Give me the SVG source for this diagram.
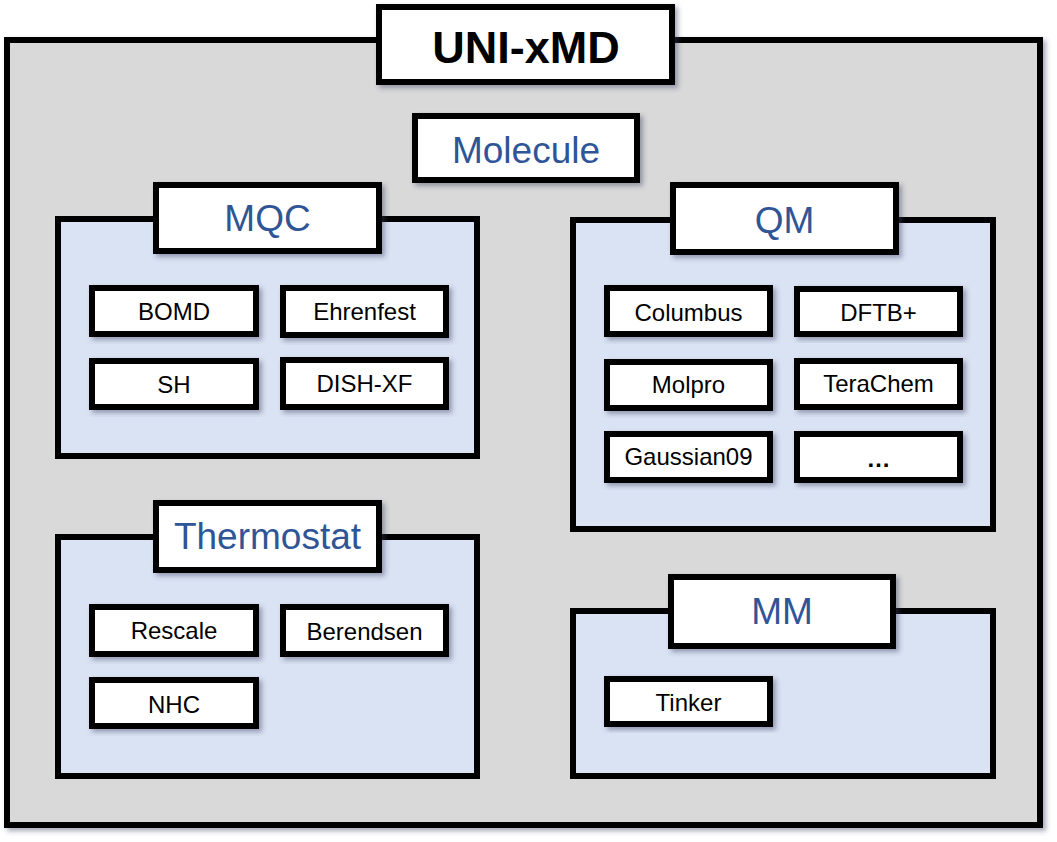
<svg xmlns="http://www.w3.org/2000/svg" width="1057" height="842" viewBox="0 0 1057 842">
<defs>
<filter id="sh" x="-10%" y="-10%" width="125%" height="130%">
<feDropShadow dx="3" dy="3" stdDeviation="2.5" flood-color="#3a4060" flood-opacity="0.45"/>
</filter>
<style>
.outer{fill:#D9D9D9;stroke:#000;stroke-width:6;filter:url(#sh)}
.grp{fill:#DAE3F3;stroke:#000;stroke-width:6}
.lbl{fill:#fff;stroke:#000;stroke-width:6;filter:url(#sh)}
.nd{fill:#fff;stroke:#000;stroke-width:6;filter:url(#sh)}
.t{font-family:"Liberation Sans",Arial,sans-serif;font-size:24px;fill:#000;text-anchor:middle}
.gt{font-family:"Liberation Sans",Arial,sans-serif;font-size:37px;fill:#2F5597;text-anchor:middle}
.title{font-family:"Liberation Sans",Arial,sans-serif;font-size:45px;font-weight:bold;fill:#000;text-anchor:middle}
</style>
</defs>
<rect width="1057" height="842" fill="#fff"/>
<g id="uni-xmd">
<rect class="outer" x="7" y="40" width="1033" height="785"/>
<rect class="lbl" x="379" y="7" width="293" height="75"/>
<text class="title" x="526" y="63">UNI-xMD</text>
</g>
<g id="molecule">
<rect class="lbl" x="415" y="116" width="222" height="64"/>
<text class="gt" x="526" y="163">Molecule</text>
</g>
<g id="mqc">
<rect class="grp" x="58" y="219" width="419" height="237"/>
<rect class="lbl" x="156" y="185" width="223" height="66"/>
<text class="gt" x="267.5" y="231">MQC</text>
</g>
<g id="bomd"><rect class="nd" x="92" y="288" width="164" height="46"/><text class="t" x="174" y="320">BOMD</text></g>
<g id="ehrenfest"><rect class="nd" x="283" y="288" width="163" height="47"/><text class="t" x="364.5" y="320">Ehrenfest</text></g>
<g id="sh-node"><rect class="nd" x="92" y="361" width="164" height="46"/><text class="t" x="174" y="393">SH</text></g>
<g id="dish-xf"><rect class="nd" x="283" y="360" width="163" height="47"/><text class="t" x="364.5" y="392">DISH-XF</text></g>
<g id="thermostat">
<rect class="grp" x="58" y="537" width="419" height="239"/>
<rect class="lbl" x="156" y="503" width="223" height="67"/>
<text class="gt" x="267.5" y="549">Thermostat</text>
</g>
<g id="rescale"><rect class="nd" x="92" y="607" width="164" height="47"/><text class="t" x="174" y="639">Rescale</text></g>
<g id="berendsen"><rect class="nd" x="283" y="607" width="163" height="47"/><text class="t" x="364.5" y="640">Berendsen</text></g>
<g id="nhc"><rect class="nd" x="92" y="680" width="164" height="46"/><text class="t" x="174" y="713">NHC</text></g>
<g id="qm">
<rect class="grp" x="573" y="220" width="420" height="309"/>
<rect class="lbl" x="673" y="185" width="223" height="67"/>
<text class="gt" x="784.5" y="233">QM</text>
</g>
<g id="columbus"><rect class="nd" x="607" y="288" width="163" height="46"/><text class="t" x="688.5" y="321">Columbus</text></g>
<g id="dftb"><rect class="nd" x="797" y="289" width="163" height="45"/><text class="t" x="878.5" y="321">DFTB+</text></g>
<g id="molpro"><rect class="nd" x="607" y="362" width="163" height="46"/><text class="t" x="688.5" y="393">Molpro</text></g>
<g id="terachem"><rect class="nd" x="797" y="361" width="163" height="46"/><text class="t" x="878.5" y="392">TeraChem</text></g>
<g id="gaussian09"><rect class="nd" x="607" y="434" width="163" height="46"/><text class="t" x="688.5" y="465">Gaussian09</text></g>
<g id="more"><rect class="nd" x="797" y="434" width="163" height="46"/><text class="t" x="878.5" y="467" font-weight="bold">…</text></g>
<g id="mm">
<rect class="grp" x="573" y="611" width="420" height="165"/>
<rect class="lbl" x="671" y="577" width="222" height="69"/>
<text class="gt" x="782" y="624">MM</text>
</g>
<g id="tinker"><rect class="nd" x="607" y="679" width="163" height="45"/><text class="t" x="688.5" y="711">Tinker</text></g>
<g id="connectors"></g>
</svg>
